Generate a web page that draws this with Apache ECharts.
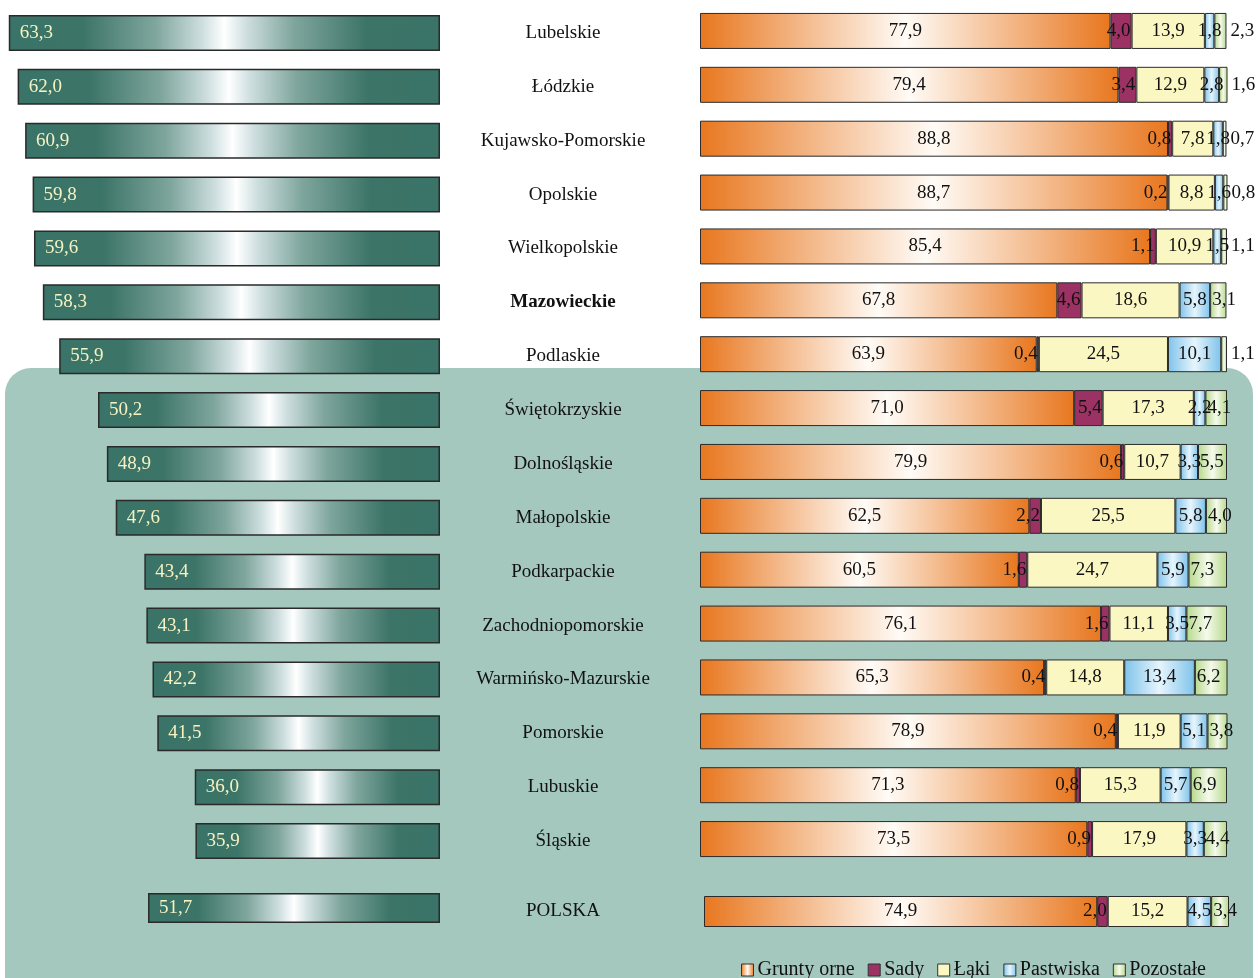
<!DOCTYPE html>
<html>
<head>
<meta charset="utf-8">
<script src="https://cdn.jsdelivr.net/npm/echarts@6/dist/echarts.min.js"></script>
<style>
  html, body { margin: 0; padding: 0; background: #ffffff; }
  #chart { width: 1258px; height: 978px; }
</style>
</head>
<body>
<div id="chart"></div>
<script>
// ---- Data ----
const regions = ['Lubelskie', 'Łódzkie', 'Kujawsko-Pomorskie', 'Opolskie', 'Wielkopolskie', 'Mazowieckie', 'Podlaskie',
  'Świętokrzyskie', 'Dolnośląskie', 'Małopolskie', 'Podkarpackie', 'Zachodniopomorskie', 'Warmińsko-Mazurskie',
  'Pomorskie', 'Lubuskie', 'Śląskie'];
const shareValues = [63.3, 62.0, 60.9, 59.8, 59.6, 58.3, 55.9, 50.2, 48.9, 47.6, 43.4, 43.1, 42.2, 41.5, 36.0, 35.9];
const gruntyOrne = [77.9, 79.4, 88.8, 88.7, 85.4, 67.8, 63.9, 71.0, 79.9, 62.5, 60.5, 76.1, 65.3, 78.9, 71.3, 73.5];
const sady       = [4.0, 3.4, 0.8, 0.2, 1.1, 4.6, 0.4, 5.4, 0.6, 2.2, 1.6, 1.6, 0.4, 0.4, 0.8, 0.9];
const laki       = [13.9, 12.9, 7.8, 8.8, 10.9, 18.6, 24.5, 17.3, 10.7, 25.5, 24.7, 11.1, 14.8, 11.9, 15.3, 17.9];
const pastwiska  = [1.8, 2.8, 1.8, 1.6, 1.5, 5.8, 10.1, 2.2, 3.3, 5.8, 5.9, 3.5, 13.4, 5.1, 5.7, 3.3];
const pozostale  = [2.3, 1.6, 0.7, 0.8, 1.1, 3.1, 1.1, 4.1, 5.5, 4.0, 7.3, 7.7, 6.2, 3.8, 6.9, 4.4];

const polskaLabel = ['POLSKA'];
const polskaShare = [51.7];
const polskaGrunty = [74.9];
const polskaSady = [2.0];
const polskaLaki = [15.2];
const polskaPastwiska = [4.5];
const polskaPozostale = [3.4];

const useNames = ['Grunty orne', 'Sady', 'Łąki', 'Pastwiska', 'Pozostałe'];

// ---- Styles ----
const FONT = '"Liberation Serif", "DejaVu Serif", serif';
const fmt = v => (typeof v === 'object' ? v.value : v).toFixed(1).replace('.', ',');

function hGrad(stops) {
  return new echarts.graphic.LinearGradient(0, 0, 1, 0, stops.map(s => ({ offset: s[0], color: s[1] })));
}
const tealGrad = hGrad([[0, '#3a7367'], [0.17, '#3c7468'], [0.34, '#7fa69d'], [0.45, '#cfdfe0'], [0.5, '#ffffff'],
  [0.55, '#cfdfe0'], [0.66, '#7fa69d'], [0.83, '#3c7468'], [1, '#3a7367']]);
const colors = [
  hGrad([[0, '#e8771f'], [0.5, '#fffbf6'], [1, '#e8771f']]),
  '#9b3263',
  '#faf7c2',
  hGrad([[0, '#7fc3ea'], [0.5, '#e6f5fd'], [1, '#7fc3ea']]),
  hGrad([[0, '#b6d98b'], [0.5, '#f5faec'], [1, '#b6d98b']])
];

function labelFor(idx) {
  const base = { show: true, fontFamily: FONT, fontSize: 19, color: '#111', formatter: fmt };
  if (idx === 0) return Object.assign(base, { position: 'inside' });
  if (idx === 1) return Object.assign(base, { position: 'insideRight', distance: 1 });
  if (idx === 2) return Object.assign(base, { position: 'inside' });
  if (idx === 3) return Object.assign(base, { position: 'inside' });
  return Object.assign(base, { position: 'insideLeft', distance: 2 });
}
function pozData(arr) {
  return arr.map(v => v < 3 ? { value: v, label: { position: 'right', distance: 4 } } : v);
}

function stackSeries(arrays, xi, yi, stack, barW) {
  return arrays.map((arr, i) => ({
    name: useNames[i],
    type: 'bar',
    stack: stack,
    xAxisIndex: xi,
    yAxisIndex: yi,
    barWidth: barW,
    data: i === 4 ? pozData(arr) : arr,
    itemStyle: { color: colors[i], borderColor: '#2b2b2b', borderWidth: 1 },
    label: labelFor(i),
    emphasis: { disabled: true }
  }));
}

const catLabel = {
  margin: 123,
  align: 'center',
  fontFamily: FONT,
  fontSize: 19,
  color: '#111',
  formatter: v => v === 'Mazowieckie' ? '{b|' + v + '}' : v,
  rich: { b: { fontFamily: FONT, fontSize: 19, fontWeight: 'bold', color: '#111' } }
};
const hiddenAxis = { show: false };

const option = {
  animation: false,
  backgroundColor: '#ffffff',
  graphic: [{
    type: 'rect', z: -10, silent: true,
    shape: { x: 5, y: 368, width: 1248, height: 660, r: 26 },
    style: { fill: '#a4c8bd' }
  }],
  legend: {
    data: useNames,
    left: 736, top: 955,
    itemWidth: 12, itemHeight: 12, itemGap: 13,
    icon: 'rect',
    itemStyle: { borderColor: '#333', borderWidth: 1 },
    textStyle: { fontFamily: FONT, fontSize: 20, color: '#111', padding: [0, 0, 0, -1] }
  },
  grid: [
    { left: 4, width: 436, top: 6, height: 862 },
    { left: 700, width: 527, top: 4, height: 862 },
    { left: 4, width: 436, top: 893, height: 30 },
    { left: 704, width: 525, top: 896, height: 31 }
  ],
  xAxis: [
    Object.assign({ type: 'value', gridIndex: 0, inverse: true, min: 0, max: 64 }, hiddenAxis),
    Object.assign({ type: 'value', gridIndex: 1, min: 0, max: 100 }, hiddenAxis),
    Object.assign({ type: 'value', gridIndex: 2, inverse: true, min: 0, max: 77.2 }, hiddenAxis),
    Object.assign({ type: 'value', gridIndex: 3, min: 0, max: 100 }, hiddenAxis)
  ],
  yAxis: [
    { type: 'category', gridIndex: 0, data: regions, inverse: true, position: 'right',
      axisLine: { show: false }, axisTick: { show: false }, splitLine: { show: false }, axisLabel: catLabel },
    { type: 'category', gridIndex: 1, data: regions, inverse: true, show: false },
    { type: 'category', gridIndex: 2, data: polskaLabel, position: 'right',
      axisLine: { show: false }, axisTick: { show: false }, splitLine: { show: false },
      axisLabel: Object.assign({}, catLabel, { padding: [6, 0, 0, 0] }) },
    { type: 'category', gridIndex: 3, data: polskaLabel, show: false }
  ],
  series: [
    {
      name: 'share', type: 'bar', xAxisIndex: 0, yAxisIndex: 0, barWidth: 36,
      data: shareValues,
      itemStyle: { color: tealGrad, borderColor: '#2a2a2a', borderWidth: 1.5 },
      label: { show: true, position: 'insideLeft', distance: 11, fontFamily: FONT, fontSize: 19, color: '#f6f2c2', formatter: fmt },
      emphasis: { disabled: true }
    },
    {
      name: 'shareP', type: 'bar', xAxisIndex: 2, yAxisIndex: 2, barWidth: 30,
      data: polskaShare,
      itemStyle: { color: tealGrad, borderColor: '#2a2a2a', borderWidth: 1.5 },
      label: { show: true, position: 'insideLeft', distance: 11, fontFamily: FONT, fontSize: 19, color: '#f6f2c2', formatter: fmt },
      emphasis: { disabled: true }
    }
  ].concat(
    stackSeries([gruntyOrne, sady, laki, pastwiska, pozostale], 1, 1, 'r', 36),
    stackSeries([polskaGrunty, polskaSady, polskaLaki, polskaPastwiska, polskaPozostale], 3, 3, 'p', 31)
  )
};

const chart = echarts.init(document.getElementById('chart'), null, { renderer: 'canvas' });
chart.setOption(option);
</script>
</body>
</html>
